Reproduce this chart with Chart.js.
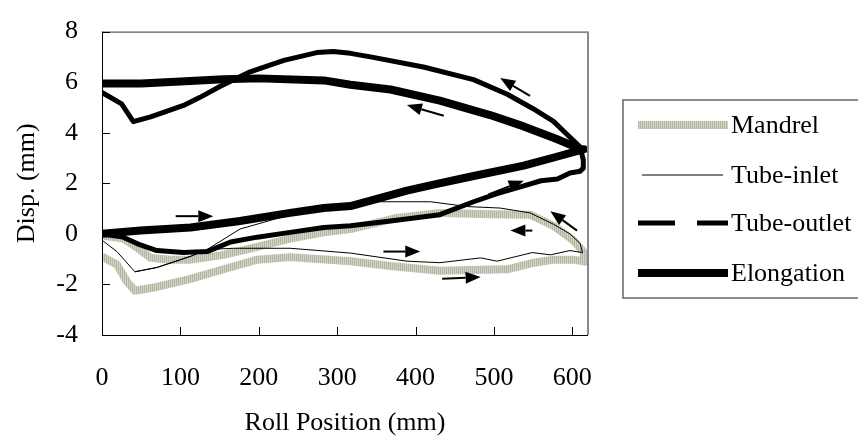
<!DOCTYPE html>
<html>
<head>
<meta charset="utf-8">
<script src="https://cdn.jsdelivr.net/npm/chart.js@4"></script>
<style>
  body { margin: 0; background: #fff; }
  canvas { display: block; }
</style>
</head>
<body>
<canvas id="dispChart" width="858" height="443"></canvas>
<script>
// series data (roll position in mm, displacement in mm)
const mandrelX = [0, 19, 32, 42, 70, 113, 155, 198, 240, 280, 317, 368, 431, 483, 517, 551, 576, 601, 616,
  614, 601, 576, 546, 495, 431, 376, 317, 283, 240, 198, 155, 113, 87, 62, 40, 27, 0];
const mandrelY = [-0.9, -1.21, -1.9, -2.25, -2.1, -1.78, -1.4, -1.02, -0.92, -1.0, -1.08, -1.27, -1.46, -1.42, -1.4, -1.14, -1.02, -1.02, -1.1,
  -0.7, -0.25, 0.32, 0.76, 0.78, 0.83, 0.63, 0.19, 0.06, -0.19, -0.51, -0.83, -1.02, -1.02, -0.95, -0.44, -0.19, -0.06];

const inletX = [0, 19, 42, 70, 113, 134, 168, 240, 317, 389, 431, 483, 504, 549, 572, 597, 613,
  610, 597, 576, 546, 508, 466, 419, 346, 317, 261, 219, 176, 134, 113, 70, 42];
const inletY = [-0.25, -0.7, -1.5, -1.33, -0.89, -0.62, -0.57, -0.57, -0.76, -1.08, -1.14, -0.95, -1.08, -0.74, -0.83, -0.66, -0.74,
  -0.38, 0, 0.38, 0.83, 1.02, 1.08, 1.27, 1.27, 1.21, 0.95, 0.57, 0.19, -0.62, -0.89, -1.33, -1.5];

const outletX = [0, 27, 49, 70, 104, 134, 164, 198, 240, 283, 317, 368, 431, 474, 504, 538, 560, 581, 597, 610, 614,
  614, 610, 593, 576, 550, 517, 474, 410, 346, 317, 295, 274, 232, 189, 151, 125, 104, 62, 40, 25, 0];
const outletY = [0, -0.13, -0.44, -0.66, -0.74, -0.7, -0.32, -0.13, 0.06, 0.25, 0.32, 0.51, 0.76, 1.27, 1.59, 1.9, 2.1, 2.17, 2.41, 2.48, 2.6,
  2.93, 3.43, 3.94, 4.45, 4.95, 5.52, 6.1, 6.6, 6.98, 7.14, 7.21, 7.17, 6.86, 6.41, 5.84, 5.4, 5.08, 4.63, 4.44, 5.14, 5.59];

const elongX = [0, 49, 113, 176, 240, 283, 317, 389, 423, 474, 538, 580, 615,
  610, 580, 538, 495, 431, 368, 317, 283, 200, 155, 100, 50, 0];
const elongY = [0, 0.13, 0.25, 0.51, 0.83, 1.02, 1.1, 1.71, 1.95, 2.29, 2.7, 3.05, 3.35,
  3.36, 3.75, 4.25, 4.7, 5.27, 5.71, 5.9, 6.07, 6.15, 6.12, 6.03, 5.95, 5.95];

// direction arrows, tail -> head, in data units
const arrowTailX = [94, 493, 606, 549, 359, 434, 546, 436];
const arrowTailY = [0.7, 1.56, 0.13, 0.13, -0.7, -1.78, 5.46, 4.67];
const arrowHeadX = [142, 538, 572, 521, 406, 483, 508, 389];
const arrowHeadY = [0.7, 2.1, 0.89, 0.13, -0.7, -1.71, 6.16, 5.1];

const xTickVals = [0, 100, 200, 300, 400, 500, 600];
const yTickVals = [-4, -2, 0, 2, 4, 6, 8];
const seriesNames = ["Mandrel", "Tube-inlet", "Tube-outlet", "Elongation"];

const toPoints = (xs, ys) => xs.map((x, i) => ({ x: x, y: ys[i] }));

// hatched grey used for the mandrel line
const makeHatch = () => {
  const c = document.createElement("canvas");
  c.width = 2; c.height = 2;
  const g = c.getContext("2d");
  g.fillStyle = "#d4d4c6"; g.fillRect(0, 0, 2, 2);
  g.fillStyle = "#b4b4a2"; g.fillRect(0, 0, 1, 2);
  return g.createPattern(c, "repeat");
};

document.addEventListener("DOMContentLoaded", () => {
  const ctx = document.getElementById("dispChart").getContext("2d");
  const hatch = makeHatch();
  const font = "Liberation Serif, Times New Roman, serif";

  const extras = {
    id: "extras",
    afterDraw(chart) {
      const { ctx, chartArea: a, scales: { x, y } } = chart;
      ctx.save();
      // frame
      ctx.strokeStyle = "#333"; ctx.lineWidth = 1;
      ctx.beginPath(); ctx.moveTo(a.left, a.top + 0.5); ctx.lineTo(a.right, a.top + 0.5); ctx.stroke();
      ctx.strokeStyle = "#888"; ctx.lineWidth = 2;
      ctx.beginPath(); ctx.moveTo(a.right, a.top); ctx.lineTo(a.right, a.bottom); ctx.stroke();
      ctx.strokeStyle = "#000"; ctx.lineWidth = 1;
      ctx.beginPath();
      ctx.moveTo(a.left + 0.5, a.top); ctx.lineTo(a.left + 0.5, a.bottom + 0.5);
      ctx.lineTo(a.right, a.bottom + 0.5);
      ctx.stroke();
      // inner tick marks
      ctx.beginPath();
      xTickVals.forEach((v) => {
        const px = Math.round(x.getPixelForValue(v)) + 0.5;
        ctx.moveTo(px, a.bottom); ctx.lineTo(px, a.bottom - 8);
      });
      yTickVals.forEach((v) => {
        const py = Math.round(y.getPixelForValue(v)) + 0.5;
        ctx.moveTo(a.left, py); ctx.lineTo(a.left + 8, py);
      });
      ctx.stroke();

      // arrows
      ctx.fillStyle = "#000"; ctx.lineWidth = 2;
      arrowTailX.forEach((tx, i) => {
        const x1 = x.getPixelForValue(tx), y1 = y.getPixelForValue(arrowTailY[i]);
        const x2 = x.getPixelForValue(arrowHeadX[i]), y2 = y.getPixelForValue(arrowHeadY[i]);
        const ang = Math.atan2(y2 - y1, x2 - x1);
        const hl = 15, hw = 6;
        const bx = x2 - hl * Math.cos(ang), by = y2 - hl * Math.sin(ang);
        ctx.beginPath(); ctx.moveTo(x1, y1); ctx.lineTo(bx, by); ctx.stroke();
        ctx.beginPath();
        ctx.moveTo(x2, y2);
        ctx.lineTo(bx + hw * Math.sin(ang), by - hw * Math.cos(ang));
        ctx.lineTo(bx - hw * Math.sin(ang), by + hw * Math.cos(ang));
        ctx.closePath(); ctx.fill();
      });

      // legend box
      ctx.strokeStyle = "#666"; ctx.lineWidth = 1.5;
      ctx.strokeRect(623, 100, 240, 198);
      const rows = [125, 175, 223, 273];
      const ds = chart.data.datasets;
      rows.forEach((ry, i) => {
        const d = ds[i];
        ctx.strokeStyle = d.borderColor;
        ctx.lineWidth = d.borderWidth;
        ctx.setLineDash(i === 2 ? [37, 22] : []);
        ctx.beginPath(); ctx.moveTo(i === 1 ? 642 : 638, ry); ctx.lineTo(i === 1 ? 723 : 728, ry); ctx.stroke();
        ctx.setLineDash([]);
        ctx.fillStyle = "#000";
        ctx.font = "26px " + font;
        ctx.textBaseline = "middle";
        ctx.fillText(seriesNames[i], 731, ry + 1);
      });
      ctx.restore();
    },
  };

  new Chart(ctx, {
    type: "scatter",
    data: {
      datasets: [
        { label: seriesNames[0], data: toPoints(mandrelX, mandrelY), borderColor: hatch, borderWidth: 8, order: 4 },
        { label: seriesNames[1], data: toPoints(inletX, inletY), borderColor: "#000", borderWidth: 1, order: 1 },
        { label: seriesNames[2], data: toPoints(outletX, outletY), borderColor: "#000", borderWidth: 5, order: 2 },
        { label: seriesNames[3], data: toPoints(elongX, elongY), borderColor: "#000", borderWidth: 8, order: 3 },
      ].map((d) => Object.assign(d, { showLine: true, pointRadius: 0, tension: 0, borderJoinStyle: "round", fill: false })),
    },
    options: {
      responsive: false,
      animation: false,
      layout: { padding: { top: 20, right: 270, left: 0, bottom: 0 } },
      plugins: { legend: { display: false }, tooltip: { enabled: false } },
      scales: {
        x: {
          type: "linear", min: 0, max: 620,
          grid: { display: false }, border: { display: false },
          afterBuildTicks: (s) => { s.ticks = xTickVals.map((v) => ({ value: v })); },
          afterFit: (s) => { s.height = 108; },
          ticks: { color: "#000", font: { family: font, size: 26 }, padding: 20, maxRotation: 0 },
          title: { display: true, text: "Roll Position (mm)", color: "#000", font: { family: font, size: 26 }, padding: { bottom: 4 } },
        },
        y: {
          min: -4, max: 8,
          grid: { display: false }, border: { display: false },
          afterBuildTicks: (s) => { s.ticks = yTickVals.map((v) => ({ value: v })); },
          afterFit: (s) => { s.width = 102; },
          ticks: { color: "#000", font: { family: font, size: 26 }, padding: 16 },
          title: { display: true, text: "Disp. (mm)", color: "#000", font: { family: font, size: 26 }, padding: { top: 12 } },
        },
      },
    },
    plugins: [extras],
  });
});
</script>
</body>
</html>
